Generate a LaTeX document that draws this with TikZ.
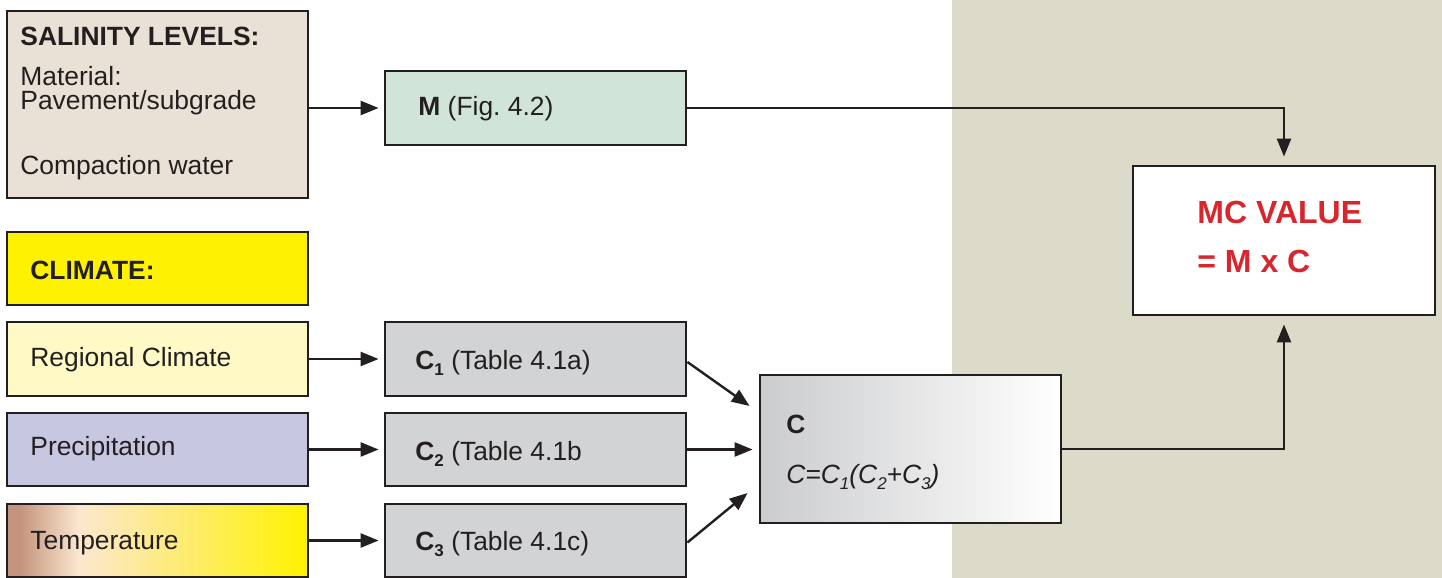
\documentclass[tikz,border=0pt]{standalone}
\usepackage{fontspec}
\setmainfont{Liberation Sans}
\usetikzlibrary{arrows.meta,fit}

\definecolor{ink}{HTML}{231F20}
\definecolor{tanbg}{HTML}{DCDBC9}
\definecolor{salfill}{HTML}{EAE1D6}
\definecolor{climyellow}{HTML}{FFF200}
\definecolor{regfill}{HTML}{FFF9C6}
\definecolor{precfill}{HTML}{C7C7E1}
\definecolor{mfill}{HTML}{D0E5D7}
\definecolor{cfill}{HTML}{D1D3D4}
\definecolor{cgray}{HTML}{CBCCCE}
\definecolor{tempbrown}{HTML}{C4937D}
\definecolor{tempcream}{HTML}{FCE7CF}
\definecolor{mcred}{HTML}{D7262E}

\pgfdeclarehorizontalshading{tempgrad}{100bp}{color(0bp)=(tempbrown); color(25bp)=(tempbrown); color(27bp)=(tempbrown); color(37bp)=(tempcream); color(75bp)=(climyellow); color(100bp)=(climyellow)}

% small lowered index
\newcommand{\idx}[1]{\raisebox{-0.45ex}{\fontsize{8.5}{9}\selectfont #1}}

\tikzset{
  box/.style={draw=ink, line width=1.4pt, inner sep=0pt},
  txt/.style={anchor=base west, inner sep=0pt, text=ink, font=\fontsize{13.2}{15}\selectfont},
  btxt/.style={anchor=base west, inner sep=0pt, text=ink, font=\fontsize{13.2}{15}\selectfont\bfseries},
  redtxt/.style={anchor=base west, inner sep=0pt, text=mcred, font=\fontsize{16}{19}\selectfont\bfseries},
  arr/.style={draw=ink, line width=1.2pt, -{Triangle[length=9pt,width=7pt]}},
}

\begin{document}
\frenchspacing
\begin{tikzpicture}[x=0.5pt,y=-0.5pt]
\useasboundingbox (0,0) rectangle (1442,578);
% shaded band on the right
\fill[tanbg] (952,0) rectangle (1442,578);

% input boxes
\node[box, fill=salfill, fit={(7,11)(308,198)}] (sal) {};
\node[box, fill=climyellow, fit={(7,232)(308,305)}] (clim) {};
\node[box, fill=regfill, fit={(7,322)(308,396)}] (reg) {};
\node[box, fill=precfill, fit={(7,413)(308,486)}] (prec) {};
\node[box, shading=tempgrad, fit={(7,504)(308,577)}] (temp) {};

% factor boxes
\node[box, fill=mfill, fit={(385,71)(686,145)}] (m) {};
\node[box, fill=cfill, fit={(385,322)(686,396)}] (c1) {};
\node[box, fill=cfill, fit={(385,413)(686,486)}] (c2) {};
\node[box, fill=cfill, fit={(385,504)(686,577)}] (c3) {};
\node[box, left color=cgray, right color=white, fit={(760,375)(1061,523)}] (c) {};
\node[box, fill=white, fit={(1133,166)(1435,315)}] (mc) {};

% texts
\node[btxt] (saltitle) at (20,46) {SALINITY LEVELS:};
\node[txt] (mat) at (20,85) {Material:};
\node[txt] (pave) at (20,109) {Pavement/subgrade};
\node[txt] (water) at (20,174) {Compaction water};
\node[btxt] (climtitle) at (30,279) {CLIMATE:};
\node[txt] (regtxt) at (30,366) {Regional Climate};
\node[txt] (prectxt) at (30,455) {Precipitation};
\node[txt] (temptxt) at (30,549) {Temperature};

\node[txt] (mtxt) at (418,115) {\textbf{M} (Fig. 4.2)};
\node[txt] (c1txt) at (415,369) {\textbf{C\idx{1}} (Table 4.1a)};
\node[txt] (c2txt) at (415,460) {\textbf{C\idx{2}} (Table 4.1b};
\node[txt] (c3txt) at (415,550) {\textbf{C\idx{3}} (Table 4.1c)};
\node[btxt] (ctitle) at (786,433) {C};
\node[txt] (cform) at (786,483) {\itshape C=C\idx{1}(C\idx{2}+C\idx{3})};
\node[redtxt] (mcv) at (1197,223) {MC VALUE};
\node[redtxt] (mcf) at (1197,272) {= M x C};

% connectors
\draw[arr, shorten >=2.5pt] (m.west -| sal.east) -- (m.west);
\draw[arr, shorten >=2.5pt] (reg.east) -- (c1.west);
\draw[arr, shorten >=2.5pt] (prec.east) -- (c2.west);
\draw[arr, shorten >=2.5pt] (temp.east) -- (c3.west);
\draw[arr] ([yshift=-1.5pt]c1.east) -- ([shift={(-4.5pt,21.5pt)}]c.west);
\draw[arr, shorten >=3pt] (c2.east) -- (c2.east -| c.west);
\draw[arr] ([yshift=-1pt]c3.east) -- ([shift={(-5.5pt,-22pt)}]c.west);
\draw[arr, shorten >=4pt] (m.east) -| (mc.north);
\draw[arr, shorten >=4pt] (c.east) -| (mc.south);
\end{tikzpicture}
\end{document}
